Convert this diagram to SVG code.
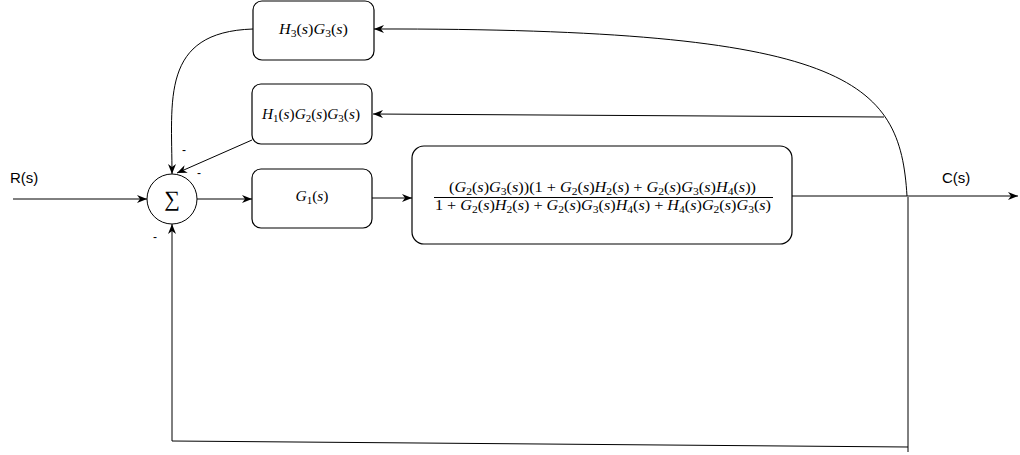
<svg xmlns="http://www.w3.org/2000/svg" width="1020" height="455" viewBox="0 0 1020 455">
<style>
.box{fill:#fff;stroke:#000;stroke-width:1.2}
.ln{fill:none;stroke:#000;stroke-width:1}
.lbl{font-family:"Liberation Sans",Arial,sans-serif;font-size:15px;fill:#000}
.sg{font-family:"Liberation Sans",Arial,sans-serif;font-size:12px;fill:#000;text-anchor:middle}
.m{font-family:"Liberation Serif","DejaVu Serif",serif;font-size:14px;fill:#000;text-anchor:middle}
.i{font-style:italic}
.sb{font-size:10px}
</style>
<defs>
<marker id="arr" viewBox="0 0 10 8" refX="10" refY="4" markerWidth="10" markerHeight="8" orient="auto" markerUnits="userSpaceOnUse">
<path d="M0,0 L10,4 L0,8 L3,4 Z" fill="#000"/>
</marker>
</defs>
<rect width="1020" height="455" fill="#fff"/>

<g id="connectors">
<path class="ln" d="M13,199 H147" marker-end="url(#arr)"/>
<path class="ln" d="M197,199 H252" marker-end="url(#arr)"/>
<path class="ln" d="M372,198 H412" marker-end="url(#arr)"/>
<path class="ln" d="M792,196 H1018" marker-end="url(#arr)"/>
<path class="ln" d="M908,197 V452"/>
<path class="ln" d="M908,447 L172,441 V224" marker-end="url(#arr)"/>
<path class="ln" d="M907,196 C900,80 850,28 374,29" marker-end="url(#arr)"/>
<path class="ln" d="M884,117 L373,114" marker-end="url(#arr)"/>
<path class="ln" d="M253,29 C160,32 172,100 172,174" marker-end="url(#arr)"/>
<path class="ln" d="M252,140 L177,173" marker-end="url(#arr)"/>
</g>

<g id="labels">
<text class="lbl" x="10" y="183">R(s)</text>
<text class="lbl" x="942" y="183">C(s)</text>
<text class="sg" x="184" y="154">-</text>
<text class="sg" x="199" y="177">-</text>
<text class="sg" x="155" y="241">-</text>
</g>

<g id="sum">
<circle cx="172" cy="199" r="25" fill="#fff" stroke="#000" stroke-width="1"/>
<text x="172" y="206" font-family="'Liberation Serif','DejaVu Serif',serif" font-size="22" text-anchor="middle" fill="#000">∑</text>
</g>

<g id="h3g3">
<rect class="box" x="253" y="1" width="121" height="59" rx="9"/>
<text class="m" x="313.5" y="34" textLength="69" lengthAdjust="spacingAndGlyphs"><tspan class="i">H</tspan><tspan class="sb" dy="3">3</tspan><tspan dy="-3">(</tspan><tspan class="i">s</tspan>)<tspan class="i">G</tspan><tspan class="sb" dy="3">3</tspan><tspan dy="-3">(</tspan><tspan class="i">s</tspan>)</text>
</g>

<g id="h1g2g3">
<rect class="box" x="252" y="84" width="120" height="60" rx="9"/>
<text class="m" x="311" y="119" textLength="98" lengthAdjust="spacingAndGlyphs"><tspan class="i">H</tspan><tspan class="sb" dy="3">1</tspan><tspan dy="-3">(</tspan><tspan class="i">s</tspan>)<tspan class="i">G</tspan><tspan class="sb" dy="3">2</tspan><tspan dy="-3">(</tspan><tspan class="i">s</tspan>)<tspan class="i">G</tspan><tspan class="sb" dy="3">3</tspan><tspan dy="-3">(</tspan><tspan class="i">s</tspan>)</text>
</g>

<g id="g1">
<rect class="box" x="252" y="169" width="120" height="59" rx="9"/>
<text class="m" x="312" y="201" textLength="33" lengthAdjust="spacingAndGlyphs"><tspan class="i">G</tspan><tspan class="sb" dy="3">1</tspan><tspan dy="-3">(</tspan><tspan class="i">s</tspan>)</text>
</g>

<g id="closedloop">
<rect class="box" x="412" y="146" width="380" height="98" rx="12"/>
<text class="m" x="602.5" y="192" textLength="307" lengthAdjust="spacingAndGlyphs">(<tspan class="i">G</tspan><tspan class="sb" dy="3">2</tspan><tspan dy="-3">(</tspan><tspan class="i">s</tspan>)<tspan class="i">G</tspan><tspan class="sb" dy="3">3</tspan><tspan dy="-3">(</tspan><tspan class="i">s</tspan>))(1 + <tspan class="i">G</tspan><tspan class="sb" dy="3">2</tspan><tspan dy="-3">(</tspan><tspan class="i">s</tspan>)<tspan class="i">H</tspan><tspan class="sb" dy="3">2</tspan><tspan dy="-3">(</tspan><tspan class="i">s</tspan>) + <tspan class="i">G</tspan><tspan class="sb" dy="3">2</tspan><tspan dy="-3">(</tspan><tspan class="i">s</tspan>)<tspan class="i">G</tspan><tspan class="sb" dy="3">3</tspan><tspan dy="-3">(</tspan><tspan class="i">s</tspan>)<tspan class="i">H</tspan><tspan class="sb" dy="3">4</tspan><tspan dy="-3">(</tspan><tspan class="i">s</tspan>))</text>
<line x1="434" y1="197.5" x2="773" y2="197.5" stroke="#000" stroke-width="1"/>
<text class="m" x="603" y="210" textLength="336" lengthAdjust="spacingAndGlyphs">1 + <tspan class="i">G</tspan><tspan class="sb" dy="3">2</tspan><tspan dy="-3">(</tspan><tspan class="i">s</tspan>)<tspan class="i">H</tspan><tspan class="sb" dy="3">2</tspan><tspan dy="-3">(</tspan><tspan class="i">s</tspan>) + <tspan class="i">G</tspan><tspan class="sb" dy="3">2</tspan><tspan dy="-3">(</tspan><tspan class="i">s</tspan>)<tspan class="i">G</tspan><tspan class="sb" dy="3">3</tspan><tspan dy="-3">(</tspan><tspan class="i">s</tspan>)<tspan class="i">H</tspan><tspan class="sb" dy="3">4</tspan><tspan dy="-3">(</tspan><tspan class="i">s</tspan>) + <tspan class="i">H</tspan><tspan class="sb" dy="3">4</tspan><tspan dy="-3">(</tspan><tspan class="i">s</tspan>)<tspan class="i">G</tspan><tspan class="sb" dy="3">2</tspan><tspan dy="-3">(</tspan><tspan class="i">s</tspan>)<tspan class="i">G</tspan><tspan class="sb" dy="3">3</tspan><tspan dy="-3">(</tspan><tspan class="i">s</tspan>)</text>
</g>
</svg>
